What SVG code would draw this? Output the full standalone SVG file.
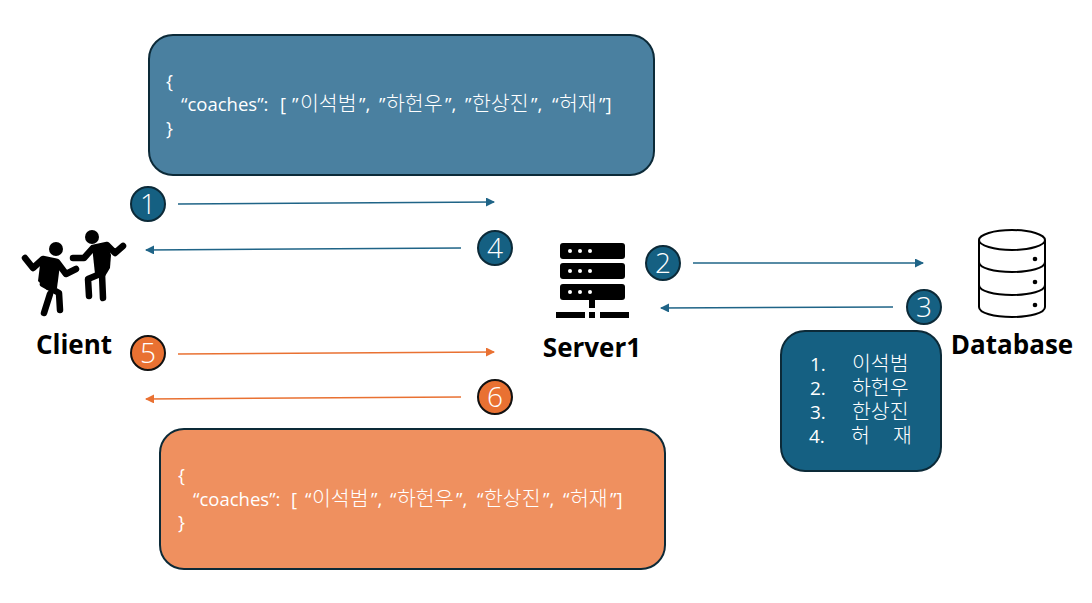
<svg xmlns="http://www.w3.org/2000/svg" width="1092" height="603" viewBox="0 0 1092 603">
<style>
text{font-family:"Open Sans","Noto Sans CJK KR","Noto Sans",sans-serif}
.lbl{font-size:26px;font-weight:700;fill:#000;text-anchor:middle}
.json{font-size:18.5px;fill:#fff}
.ko{font-size:20.5px;font-family:"Noto Sans CJK KR",sans-serif;font-weight:300}
.list{font-size:19px;fill:#fff}
.num{font-size:28px;font-weight:300;fill:#fff;text-anchor:middle}
.blue{stroke:#1f6487;stroke-width:1.6;fill:none}
.org{stroke:#e97132;stroke-width:1.6;fill:none}
.cb{fill:#156082;stroke:#0c2a38;stroke-width:2}
.co{fill:#e97132;stroke:#111;stroke-width:2}
.limb{stroke:#000;stroke-width:6.5;stroke-linecap:round;stroke-linejoin:round;fill:none}
</style>
<defs>
<marker id="ab" markerUnits="userSpaceOnUse" markerWidth="10" markerHeight="10" refX="8" refY="4.5" orient="auto"><path d="M0 0L9 4.5L0 9z" fill="#1f6487"/></marker>
<marker id="ao" markerUnits="userSpaceOnUse" markerWidth="10" markerHeight="10" refX="8" refY="4.5" orient="auto"><path d="M0 0L9 4.5L0 9z" fill="#e97132"/></marker>
</defs>
<g id="connectors">
<line class="blue" x1="178" y1="204" x2="494" y2="202" marker-end="url(#ab)"/>
<line class="blue" x1="461" y1="248" x2="146" y2="250" marker-end="url(#ab)"/>
<line class="blue" x1="693" y1="263" x2="923" y2="263" marker-end="url(#ab)"/>
<line class="blue" x1="893" y1="307" x2="661" y2="308" marker-end="url(#ab)"/>
<line class="org" x1="178" y1="354" x2="494" y2="352" marker-end="url(#ao)"/>
<line class="org" x1="461" y1="397" x2="146" y2="399" marker-end="url(#ao)"/>
</g>
<g id="request-box">
<rect x="149" y="35" width="505" height="140" rx="24" fill="#4a80a0" stroke="#0c2a38" stroke-width="2"/>
<text class="json"><tspan x="166" y="88">{</tspan><tspan x="181" y="111">“coaches”:</tspan><tspan x="280" y="111">[</tspan><tspan x="292" y="111">”</tspan><tspan class="ko" x="300" y="111">이석범</tspan><tspan x="359" y="111">”,</tspan><tspan x="379" y="111">”</tspan><tspan class="ko" x="386" y="111">하헌우</tspan><tspan x="445" y="111">”,</tspan><tspan x="465" y="111">”</tspan><tspan class="ko" x="472" y="111">한상진</tspan><tspan x="531" y="111">”,</tspan><tspan x="552" y="111">“</tspan><tspan class="ko" x="559" y="111">허재</tspan><tspan x="599" y="111">”]</tspan><tspan x="166" y="135">}</tspan></text>
</g>
<g id="response-box">
<rect x="160" y="429" width="505" height="140" rx="24" fill="#ef905f" stroke="#0c2a38" stroke-width="2"/>
<text class="json"><tspan x="178" y="482">{</tspan><tspan x="193" y="506">“coaches”:</tspan><tspan x="291" y="506">[</tspan><tspan x="305" y="506">“</tspan><tspan class="ko" x="312" y="506">이석범</tspan><tspan x="371" y="506">”,</tspan><tspan x="390" y="506">“</tspan><tspan class="ko" x="397" y="506">하헌우</tspan><tspan x="456" y="506">”,</tspan><tspan x="477" y="506">“</tspan><tspan class="ko" x="484" y="506">한상진</tspan><tspan x="543" y="506">”,</tspan><tspan x="563" y="506">“</tspan><tspan class="ko" x="570" y="506">허재</tspan><tspan x="610" y="506">”]</tspan><tspan x="178" y="529">}</tspan></text>
</g>
<g id="db-result">
<rect x="781" y="331" width="160" height="140" rx="24" fill="#156082" stroke="#0c2a38" stroke-width="2"/>
<text class="list"><tspan x="810" y="371">1.</tspan><tspan class="ko" x="852" y="371">이석범</tspan><tspan x="810" y="395">2.</tspan><tspan class="ko" x="852" y="395">하헌우</tspan><tspan x="810" y="419">3.</tspan><tspan class="ko" x="852" y="419">한상진</tspan><tspan x="809" y="443">4.</tspan><tspan class="ko" x="851" y="443">허</tspan><tspan class="ko" x="893" y="443">재</tspan></text>
</g>
<g id="client">
<circle cx="56" cy="249" r="7"/><circle cx="92" cy="237" r="7"/>
<path class="limb" d="M25 258L33 268L43 259L57 262L66 274L76 269"/>
<path d="M41 257L57 259L60 265L57 288L47 290L38 281z"/>
<path class="limb" d="M43 284L59 293L60 310M50 294L44 313"/>
<path class="limb" d="M73 258L84 258L93 248L107 245L115 253L123 246"/>
<path d="M92 246L107 243L111 255L110 268L104 278L95 274z"/>
<path class="limb" d="M100 274L88 279L89 296M102 274L103 298"/>
<text class="lbl" x="74" y="354">Client</text>
</g>
<g id="server">
<rect x="560" y="243" width="65" height="16" rx="3"/><rect x="560" y="263" width="65" height="16" rx="3"/><rect x="560" y="284" width="65" height="16" rx="3"/>
<g fill="#fff"><circle cx="570" cy="251" r="2"/><circle cx="580" cy="251" r="2"/><circle cx="590" cy="251" r="2"/><circle cx="570" cy="271" r="2"/><circle cx="580" cy="271" r="2"/><circle cx="590" cy="271" r="2"/><circle cx="570" cy="292" r="2"/><circle cx="580" cy="292" r="2"/><circle cx="590" cy="292" r="2"/></g>
<rect x="589" y="300" width="6" height="8"/><rect x="556" y="312" width="29" height="6"/><rect x="589" y="312" width="6" height="6"/><rect x="600" y="312" width="29" height="6"/>
<text class="lbl" x="592" y="357">Server1</text>
</g>
<g id="database">
<g fill="none" stroke="#000" stroke-width="2"><ellipse cx="1012" cy="240" rx="33" ry="10"/><path d="M979 240V307C979 313 994 317 1012 317S1045 313 1045 307V240M979 262C979 268 994 272 1012 272S1045 268 1045 262M979 285C979 291 994 295 1012 295S1045 291 1045 285"/></g>
<circle cx="1035" cy="259" r="2.3"/><circle cx="1035" cy="282" r="2.3"/><circle cx="1035" cy="305" r="2.3"/>
<text class="lbl" x="1012" y="354">Database</text>
</g>
<g id="step1"><circle class="cb" cx="148" cy="204" r="17"/><text class="num" x="148" y="214">1</text></g>
<g id="step2"><circle class="cb" cx="663" cy="263" r="17"/><text class="num" x="663" y="273">2</text></g>
<g id="step3"><circle class="cb" cx="924" cy="307" r="17"/><text class="num" x="924" y="317">3</text></g>
<g id="step4"><circle class="cb" cx="495" cy="248" r="17"/><text class="num" x="495" y="258">4</text></g>
<g id="step5"><circle class="co" cx="148" cy="353" r="17"/><text class="num" x="148" y="363">5</text></g>
<g id="step6"><circle class="co" cx="495" cy="397" r="17"/><text class="num" x="495" y="407">6</text></g>
</svg>
